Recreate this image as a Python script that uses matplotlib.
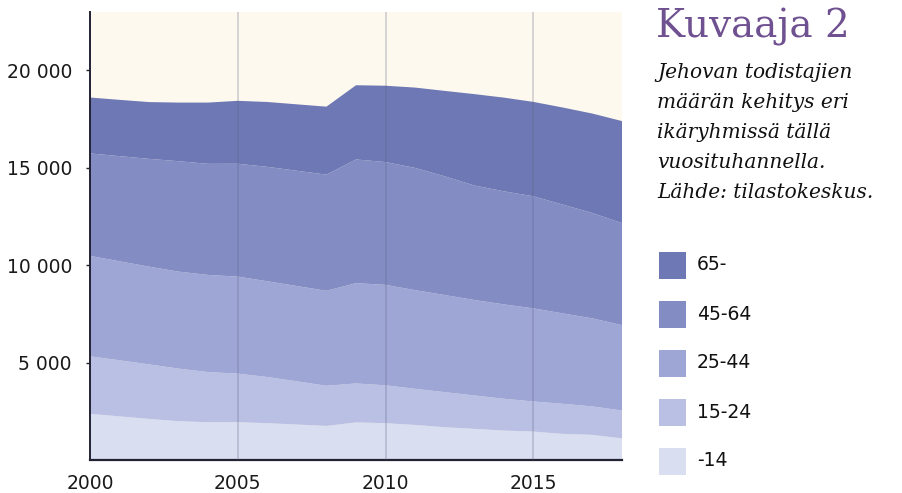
import numpy as np
import matplotlib.pyplot as plt
from matplotlib.patches import Rectangle
from matplotlib.ticker import FuncFormatter

years = list(range(2000, 2019))
age_labels = ['65-', '45-64', '25-44', '15-24', '-14']

# persons per age group
under_14 = [2370, 2240, 2110, 1990, 1940, 1940, 1890, 1820, 1750, 1930,
            1890, 1800, 1680, 1600, 1510, 1460, 1340, 1290, 1110]
age_15_24 = [2955, 2880, 2800, 2700, 2575, 2495, 2370, 2220, 2060, 2000,
             1945, 1855, 1805, 1715, 1635, 1545, 1545, 1460, 1430]
age_25_44 = [5155, 5080, 5015, 4980, 4985, 4980, 4915, 4890, 4875, 5150,
             5155, 5065, 4985, 4900, 4845, 4780, 4640, 4520, 4380]
age_45_64 = [5260, 5400, 5535, 5670, 5705, 5795, 5875, 5920, 5965, 6350,
             6305, 6275, 6095, 5880, 5805, 5755, 5585, 5410, 5240]
age_65 = [2870, 2890, 2915, 3010, 3145, 3230, 3330, 3410, 3490, 3810,
          3920, 4125, 4385, 4690, 4810, 4845, 4985, 5105, 5240]

colors = ['#6e78b4', '#838dc4', '#9ea6d5', '#b9c0e3', '#d9def0']

fig = plt.figure(figsize=(9.02, 4.93), dpi=100)
ax = fig.add_axes([90 / 902, 33 / 493, 532 / 902, 448 / 493])
ax.set_facecolor('#fdf9ee')

ax.stackplot(years, under_14, age_15_24, age_25_44, age_45_64, age_65,
             colors=colors[::-1], linewidth=0)

for x in [2005, 2010, 2015]:
    ax.axvline(x, color='#5a5f80', alpha=0.3, linewidth=1.1, zorder=3)

ax.set_xlim(2000, 2018)
ax.set_ylim(0, 23000)
ax.set_xticks([2000, 2005, 2010, 2015])
ax.set_yticks([5000, 10000, 15000, 20000])
ax.yaxis.set_major_formatter(FuncFormatter(lambda v, p: f'{int(v):,}'.replace(',', ' ')))
ax.tick_params(axis='x', length=0, pad=10, labelsize=13.5)
ax.tick_params(axis='y', length=3, width=1, pad=10, labelsize=13.5, color='#222233')
for lab in ax.get_xticklabels() + ax.get_yticklabels():
    lab.set_family('DejaVu Sans')
    lab.set_color('#1a1a1a')

for s in ['top', 'right']:
    ax.spines[s].set_visible(False)
ax.spines['left'].set_color('#222233')
ax.spines['bottom'].set_color('#222233')
ax.spines['left'].set_linewidth(1.4)
ax.spines['bottom'].set_linewidth(1.6)

fig.text(656 / 902, 1 - 37 / 493, 'Kuvaaja 2', color='#6f5090', fontsize=28,
         family='DejaVu Serif', va='baseline', ha='left')
desc = ['Jehovan todistajien', 'määrän kehitys eri', 'ikäryhmissä tällä',
        'vuosituhannella.', 'Lähde: tilastokeskus.']
for i, line in enumerate(desc):
    fig.text(657 / 902, 1 - (78 + 30 * i) / 493, line, fontsize=14.5,
             family='DejaVu Serif', style='italic', color='#111111',
             va='baseline', ha='left')

for i, (lab, c) in enumerate(zip(age_labels, colors)):
    yc = 265 + 49 * i
    fig.patches.append(Rectangle((659 / 902, 1 - (yc + 13.5) / 493), 27 / 902, 27 / 493,
                                 transform=fig.transFigure, facecolor=c, edgecolor='none'))
    fig.text(697 / 902, 1 - yc / 493, lab, fontsize=13.5, family='DejaVu Sans',
             color='#111111', va='center', ha='left')

fig.savefig('out.png', dpi=100)
